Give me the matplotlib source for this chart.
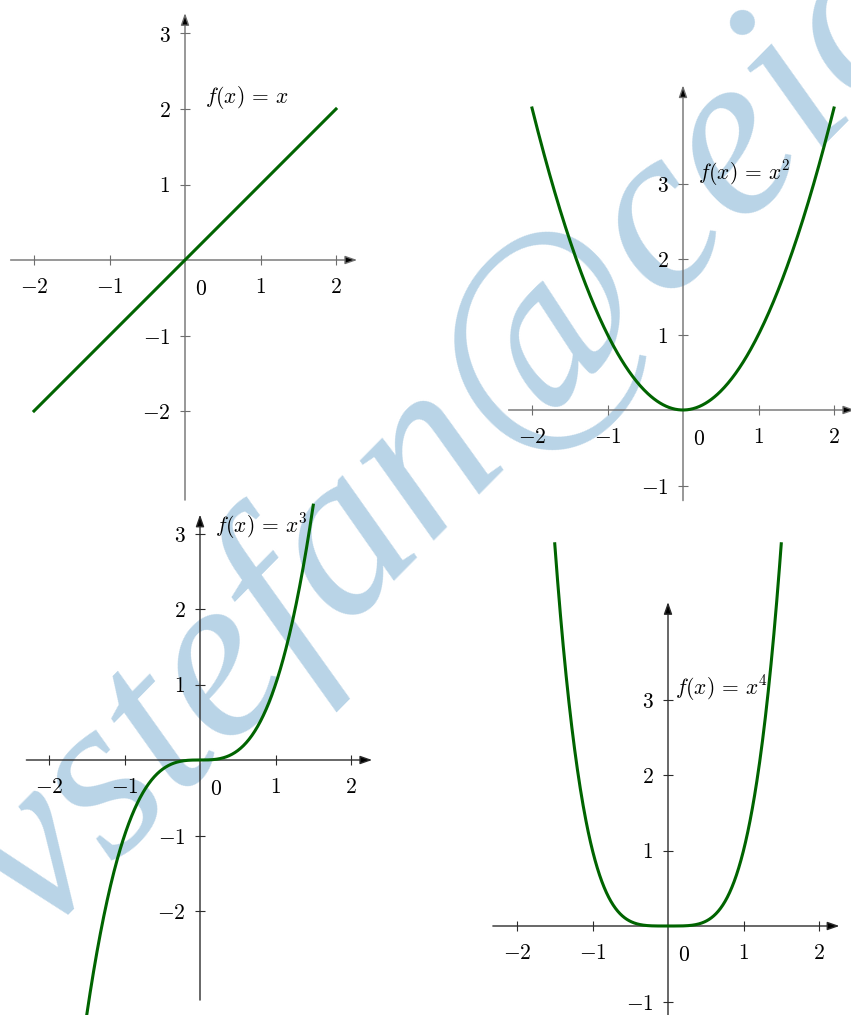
import numpy as np
import matplotlib
matplotlib.use("Agg")
import matplotlib.pyplot as plt
from matplotlib.ticker import FuncFormatter

plt.rcParams["mathtext.fontset"] = "cm"

# ── data: f(x) = x^n on four panels ──────────────────────
POWERS = [1, 2, 3, 4]
X_RANGES = [(-2.0, 2.0), (-2.0, 2.0), (-1.5, 1.5), (-1.5, 1.5)]
X_TICKS = [-2, -1, 1, 2]
Y_TICKS = [[-2, -1, 1, 2, 3], [-1, 1, 2, 3], [-2, -1, 1, 2, 3], [-1, 1, 2, 3]]
LABELS = [r"$f(x)\,=\,x$", r"$f(x)\,=\,x^2$", r"$f(x)\,=\,x^3$", r"$f(x)\,=\,x^4$"]
LABEL_POS = [(0.26, 2.15), (0.20, 3.14), (0.20, 3.10), (0.09, 3.15)]

# ── layout (pixels) ──────────────────────────────────────
W, H = 851, 1015
SCALE = 75.5                      # pixels per unit
ORIGINS = [(185, 260), (683, 410), (200, 760), (668, 926)]
AXIS_X = [(-2.31, 2.28), (-2.31, 2.28), (-2.30, 2.28), (-2.32, 2.27)]
AXIS_Y = [(-3.18, 3.27), (-1.20, 4.30), (-3.18, 3.25), (-1.20, 4.29)]
AXIS_COLORS = ["#6e6e6e", "#6e6e6e", "#2b2b2b", "#2b2b2b"]
GREEN = "#006400"

fig = plt.figure(figsize=(W / 100, H / 100), dpi=100)

# watermark, behind everything
fig.text(39 / W, (H - 938) / H, "vstefan@ceic", fontsize=171,
         family="Liberation Serif", style="italic", color="#B9D4E7",
         rotation=45.4, rotation_mode="anchor", ha="left", va="baseline",
         zorder=-1)

fmt = FuncFormatter(lambda v, p: f"${v:.0f}$")

for i, n in enumerate(POWERS):
    ox, oy = ORIGINS[i]
    x = np.linspace(X_RANGES[i][0], X_RANGES[i][1], 400)
    y = x ** n

    xlo, xhi = -2.6, 2.6
    ylo = min(AXIS_Y[i][0], y.min()) - 0.2
    yhi = max(AXIS_Y[i][1], y.max()) + 0.2
    rect = [(ox + xlo * SCALE) / W, (H - (oy - ylo * SCALE)) / H,
            (xhi - xlo) * SCALE / W, (yhi - ylo) * SCALE / H]
    ax = fig.add_axes(rect)
    ax.set_xlim(xlo, xhi)
    ax.set_ylim(ylo, yhi)
    ax.patch.set_visible(False)

    c = AXIS_COLORS[i]
    for side in ["top", "right", "left", "bottom"]:
        ax.spines[side].set_visible(False)
    ax.spines["left"].set_position(("data", 0))
    ax.spines["bottom"].set_position(("data", 0))

    arrow = dict(arrowstyle="-|>,head_length=0.8,head_width=0.28", ec=c,
                 fc="black", lw=1.0, shrinkA=0, shrinkB=0, mutation_scale=9)
    ax.annotate("", xy=(AXIS_X[i][1], 0), xytext=(AXIS_X[i][0], 0),
                arrowprops=arrow, zorder=2, annotation_clip=False)
    ax.annotate("", xy=(0, AXIS_Y[i][1]), xytext=(0, AXIS_Y[i][0]),
                arrowprops=arrow, zorder=2, annotation_clip=False)

    ax.set_xticks(X_TICKS)
    ax.set_yticks(Y_TICKS[i])
    ax.xaxis.set_major_formatter(fmt)
    ax.yaxis.set_major_formatter(fmt)
    ax.tick_params(direction="inout", length=7, width=0.8, color=c,
                   labelsize=15.5, labelcolor="black")
    ax.tick_params(axis="x", pad=8.5)
    ax.tick_params(axis="y", pad=7)

    ax.annotate(r"$0$", xy=(0, 0), xytext=(7, -14), textcoords="offset points",
                ha="left", va="top", fontsize=15.5)

    ax.plot(x, y, color=GREEN, lw=2.2, zorder=4, clip_on=False)
    ax.text(LABEL_POS[i][0], LABEL_POS[i][1], LABELS[i], fontsize=15.5,
            ha="left", va="center", zorder=5)

fig.savefig("out.png", dpi=100)
